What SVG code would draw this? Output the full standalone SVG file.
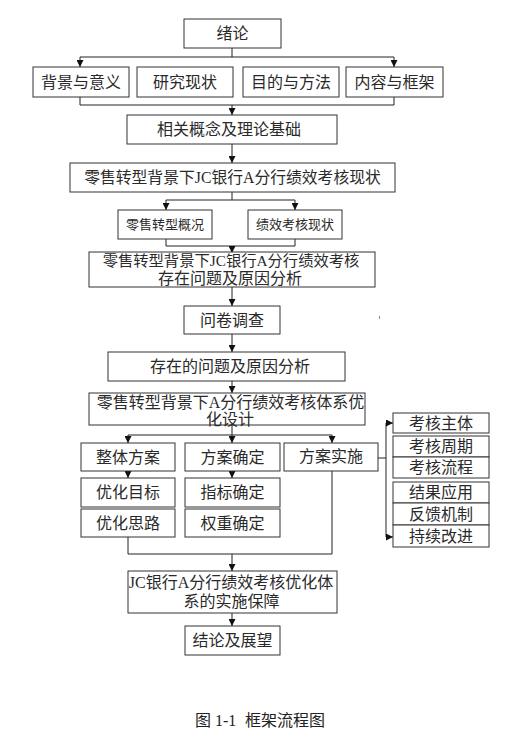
<svg xmlns="http://www.w3.org/2000/svg" width="529" height="736" viewBox="0 0 529 736">
<style>
.b{fill:#fff;stroke:#333;stroke-width:1}
.t{font-family:"Liberation Serif","Noto Sans CJK SC",sans-serif;font-size:16px;fill:#2a2a2a;text-anchor:middle;dominant-baseline:central}
.s{font-size:13px}
.c{fill:none;stroke:#222;stroke-width:1}
</style>
<defs>
<marker id="ar" viewBox="0 0 8 8" refX="8" refY="4" markerWidth="7" markerHeight="7" markerUnits="userSpaceOnUse" orient="auto">
<path d="M0,0 L8,4 L0,8 Z" fill="#111"/>
</marker>
</defs>
<rect width="529" height="736" fill="#fff"/>
<g id="connectors">
<path class="c" d="M232,48 V57 M80,57 H394"/>
<path class="c" d="M80,57 V67" marker-end="url(#ar)"/>
<path class="c" d="M394,57 V67" marker-end="url(#ar)"/>
<path class="c" d="M80,97 V105 H394 M394,97 V105"/>
<path class="c" d="M232,105 V115" marker-end="url(#ar)"/>
<path class="c" d="M232,144 V163" marker-end="url(#ar)"/>
<path class="c" d="M232,192 V200 M166,200 H295"/>
<path class="c" d="M166,200 V210" marker-end="url(#ar)"/>
<path class="c" d="M295,200 V210" marker-end="url(#ar)"/>
<path class="c" d="M166,239 V246 H295 M295,239 V246"/>
<path class="c" d="M232,246 V253" marker-end="url(#ar)"/>
<path class="c" d="M232,287 V306" marker-end="url(#ar)"/>
<path class="c" d="M232,334 V352" marker-end="url(#ar)"/>
<path class="c" d="M232,381 V393" marker-end="url(#ar)"/>
<path class="c" d="M232,425 V435 M128,435 H332"/>
<path class="c" d="M128,435 V443" marker-end="url(#ar)"/>
<path class="c" d="M232,435 V443" marker-end="url(#ar)"/>
<path class="c" d="M332,435 V443" marker-end="url(#ar)"/>
<path class="c" d="M128,471 V478" marker-end="url(#ar)"/>
<path class="c" d="M232,471 V478" marker-end="url(#ar)"/>
<path class="c" d="M128,537 V554 H332 V471"/>
<path class="c" d="M232,554 V571" marker-end="url(#ar)"/>
<path class="c" d="M232,613 V626" marker-end="url(#ar)"/>
<path class="c" d="M378,458 H386 M386,423 V537"/>
<path class="c" d="M386,423 H393" marker-end="url(#ar)"/>
<path class="c" d="M386,537 H393" marker-end="url(#ar)"/>
</g>
<g id="n1"><rect class="b" x="184" y="19" width="97" height="29"/><text class="t" x="232.5" y="33.5">绪论</text></g>
<g id="n2"><rect class="b" x="33" y="67" width="96" height="30"/><text class="t" x="81" y="82">背景与意义</text></g>
<g id="n3"><rect class="b" x="137" y="67" width="96" height="30"/><text class="t" x="185" y="82">研究现状</text></g>
<g id="n4"><rect class="b" x="243" y="67" width="96" height="30"/><text class="t" x="291" y="82">目的与方法</text></g>
<g id="n5"><rect class="b" x="346" y="67" width="97" height="30"/><text class="t" x="394.5" y="82">内容与框架</text></g>
<g id="n6"><rect class="b" x="127" y="115" width="210" height="29"/><text class="t" x="229" y="129.5">相关概念及理论基础</text></g>
<g id="n7"><rect class="b" x="70" y="163" width="325" height="29"/><text class="t" x="232.5" y="177.5" style="font-size:15.8px">零售转型背景下JC银行A分行绩效考核现状</text></g>
<g id="n8"><rect class="b" x="118" y="210" width="94" height="29"/><text class="t s" x="165" y="224.5">零售转型概况</text></g>
<g id="n9"><rect class="b" x="248" y="210" width="94" height="29"/><text class="t s" x="295" y="224.5">绩效考核现状</text></g>
<g id="n10"><rect class="b" x="89" y="252" width="286" height="35"/><text class="t" x="231" y="260" style="font-size:15.3px">零售转型背景下JC银行A分行绩效考核</text><text class="t" x="230" y="278">存在问题及原因分析</text></g>
<g id="n11"><rect class="b" x="184" y="306" width="96" height="28"/><text class="t" x="232" y="320">问卷调查</text></g>
<rect x="379" y="316" width="1" height="3" fill="#888"/>
<g id="n12"><rect class="b" x="108" y="352" width="237" height="29"/><text class="t" x="230" y="366.5">存在的问题及原因分析</text></g>
<g id="n13"><rect class="b" x="89" y="393" width="276" height="32"/><text class="t" x="230.5" y="402">零售转型背景下A分行绩效考核体系优</text><text class="t" x="230" y="419">化设计</text></g>
<g id="n14"><rect class="b" x="81" y="443" width="94" height="28"/><text class="t" x="128" y="457">整体方案</text></g>
<g id="n15"><rect class="b" x="185" y="443" width="95" height="28"/><text class="t" x="232.5" y="457">方案确定</text></g>
<g id="n16"><rect class="b" x="284" y="443" width="94" height="28"/><text class="t" x="331" y="456.5">方案实施</text></g>
<g id="n17"><rect class="b" x="81" y="478" width="94" height="29"/><text class="t" x="128" y="492.5">优化目标</text></g>
<g id="n18"><rect class="b" x="81" y="509" width="94" height="28"/><text class="t" x="128" y="523">优化思路</text></g>
<g id="n19"><rect class="b" x="185" y="478" width="95" height="29"/><text class="t" x="232.5" y="492.5">指标确定</text></g>
<g id="n20"><rect class="b" x="185" y="509" width="95" height="28"/><text class="t" x="232.5" y="523">权重确定</text></g>
<g id="n21"><rect class="b" x="393" y="413" width="96" height="20"/><text class="t" x="441" y="423">考核主体</text></g>
<g id="n22"><rect class="b" x="393" y="436" width="96" height="21"/><text class="t" x="441" y="446.5">考核周期</text></g>
<g id="n23"><rect class="b" x="393" y="457" width="96" height="21"/><text class="t" x="441" y="467.5">考核流程</text></g>
<g id="n24"><rect class="b" x="393" y="482" width="96" height="21"/><text class="t" x="441" y="492.5">结果应用</text></g>
<g id="n25"><rect class="b" x="393" y="503" width="96" height="22"/><text class="t" x="441" y="514">反馈机制</text></g>
<g id="n26"><rect class="b" x="393" y="525" width="96" height="22"/><text class="t" x="441" y="536">持续改进</text></g>
<g id="n27"><rect class="b" x="128" y="571" width="209" height="42"/><text class="t" x="231" y="582">JC银行A分行绩效考核优化体</text><text class="t" x="231.5" y="601">系的实施保障</text></g>
<g id="n28"><rect class="b" x="185" y="626" width="95" height="29"/><text class="t" x="232.5" y="640.5">结论及展望</text></g>
<text id="caption" style="font-family:'Liberation Serif','Noto Sans CJK SC',serif;font-size:16px;fill:#222" y="726"><tspan x="195">图</tspan><tspan x="215">1-1</tspan><tspan x="245">框架流程图</tspan></text>
</svg>
